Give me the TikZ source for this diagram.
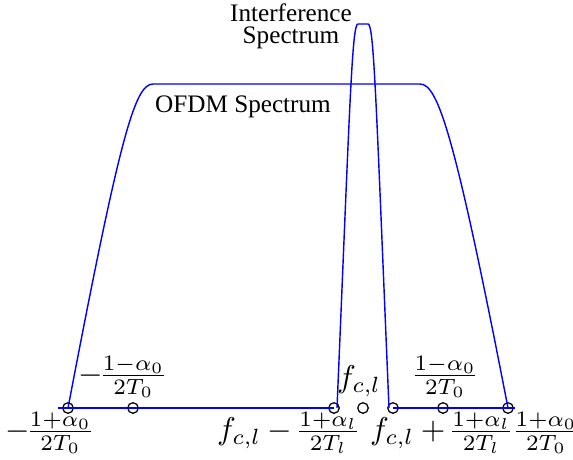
\documentclass[tikz,border=0pt]{standalone}
\usepackage[no-math]{fontspec}
\setmainfont{Liberation Serif}
\setlength{\nulldelimiterspace}{0pt}
\begin{document}
\begin{tikzpicture}[x=0.3175pt,y=-0.3175pt,
  spec/.style={blue, line width=0.45pt},
  ptcircle/.style={circle, draw=black, line width=0.4pt, inner sep=0pt, minimum size=3.35pt},
  lbl/.style={inner sep=0pt, align=center, font=\fontsize{8}{7}\selectfont},
  mlbl/.style={inner sep=0pt}
]
\useasboundingbox (0,0) rectangle (573,459);
% baseline marks
\node[ptcircle] (p1) at (68,408) {};
\node[ptcircle] (p2) at (133,408) {};
\node[ptcircle] (p3) at (334,408) {};
\node[ptcircle] (p4) at (363,408) {};
\node[ptcircle] (p5) at (393,408) {};
\node[ptcircle] (p6) at (443,408) {};
\node[ptcircle] (p7) at (508,408) {};
\coordinate (bl) at (58,408);
\coordinate (br) at (515,408);
\coordinate (il) at (337,408);
\coordinate (ir) at (389,408);
% baseline
\draw[spec] (bl) -- (p3.center);
\draw[spec] (p5.center) -- (br);
% OFDM spectrum
\draw[spec] (p1.center) .. controls (120,135) and (135,84) .. (153,84)
  -- (420,84) .. controls (438,84) and (455,135) .. (p7.center);
% interference spectrum
\draw[spec] (il) .. controls (350,100) and (352,24) .. (358,24)
  -- (368,24) .. controls (374,24) and (376,100) .. (ir);
% text labels
\node[lbl] (t1) at (291,26) {Interference\\Spectrum};
\node[lbl] (t2) at (243,107) {OFDM Spectrum};
% math labels
\node[mlbl] (m1) at (48,433) {$\mathord{-}\mathord{\frac{1+\alpha_0}{2T_0}}$};
\node[mlbl] (m2) at (121,377) {$-\frac{1-\alpha_0}{2T_0}$};
\node[mlbl] (m3) at (287,433) {$f_{c,l}-\frac{1+\alpha_l}{2T_l}$};
\node[mlbl] (m4) at (359,381) {$f_{c,l}$};
\node[mlbl] (m5) at (440,433) {$f_{c,l}+\frac{1+\alpha_l}{2T_l}$};
\node[mlbl] (m6) at (445,377) {$\frac{1-\alpha_0}{2T_0}$};
\node[mlbl] (m7) at (546,433) {$\frac{1+\alpha_0}{2T_0}$};
\end{tikzpicture}
\end{document}
